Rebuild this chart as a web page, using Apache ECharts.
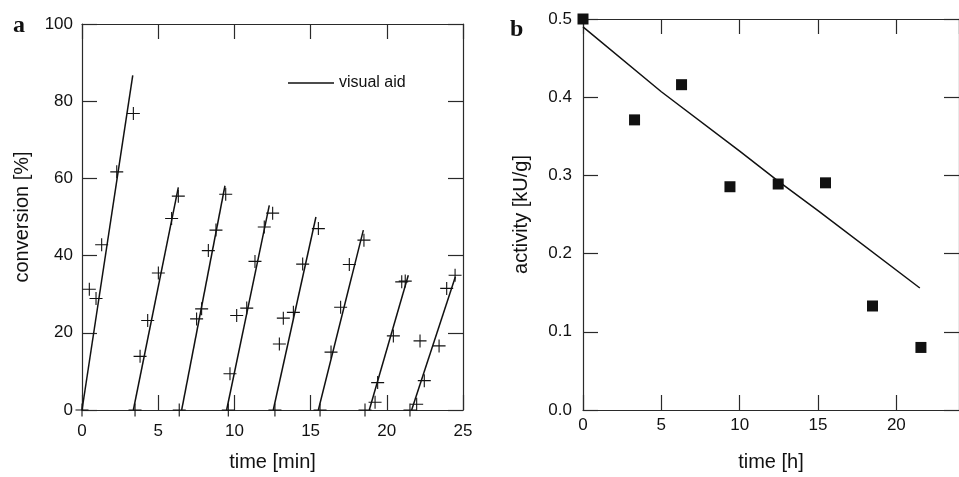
<!DOCTYPE html>
<html><head><meta charset="utf-8">
<script src="https://cdn.jsdelivr.net/npm/echarts@6/dist/echarts.min.js"></script>
<style>html,body{margin:0;padding:0;background:#fff}#c{width:959px;height:477px}</style>
</head><body><div id="c"></div>
<script>
// Panel a: conversion [%] vs time [min] (crosses)
const conversionPoints = [
  [0,0],[0.48,31.3],[0.92,28.9],[1.29,42.8],[2.28,61.7],[3.37,76.8],
  [3.48,0],[3.81,13.9],[4.31,23.2],[5.01,35.5],[5.88,49.6],[6.32,55.4],
  [6.38,0],[7.52,23.6],[7.85,26.2],[8.29,41.3],[8.79,46.6],[9.43,55.9],
  [9.6,0],[9.71,9.4],[10.15,24.5],[10.81,26.4],[11.35,38.5],[11.96,47.4],[12.51,51.0],
  [12.66,0],[12.95,17.1],[13.21,23.8],[13.87,25.3],[14.48,37.8],[15.51,47.0],
  [15.62,0],[16.34,15.0],[16.97,26.6],[17.54,37.7],[18.5,44.0],
  [18.57,0],[19.23,2.0],[19.4,7.1],[20.43,19.2],[20.98,33.2],[21.21,33.4],
  [21.52,0],[21.96,1.5],[22.18,17.9],[22.46,7.6],[23.43,16.6],[23.93,31.5],[24.48,34.9]
];
// Panel a: "visual aid" line segments, [start, end]
const aidSegments = [
  [[0,0],[3.33,86.7]],
  [[3.37,0],[6.32,57.7]],
  [[6.54,0],[9.38,58.1]],
  [[9.49,0],[12.29,53.0]],
  [[12.55,0],[15.35,50.0]],
  [[15.51,0],[18.46,46.6]],
  [[18.85,0],[21.41,34.9]],
  [[21.63,0],[24.5,34.5]]
];
// Panel b: activity [kU/g] vs time [h]
const activityTime = [0, 3.29, 6.29, 9.38, 12.46, 15.48, 18.48, 21.57];
const activityValue = [0.5, 0.371, 0.416, 0.2855, 0.289, 0.2905, 0.133, 0.080];
const activityFit = [[0,0.49],[5,0.407],[10,0.331],[12.5,0.292],[15,0.255],[21.5,0.156]];

const FONT = 'Liberation Sans';
const frameColor = '#2a2a2a';
const ink = '#111';

function axisBase(extra) {
  return Object.assign({
    axisLine: {show: true, onZero: false, lineStyle: {color: frameColor, width: 1.2}},
    axisTick: {show: true, inside: true, length: 15, lineStyle: {color: frameColor, width: 1.2}},
    splitLine: {show: false},
    nameTextStyle: {fontFamily: FONT, fontSize: 20, color: ink},
    axisLabel: {fontFamily: FONT, fontSize: 17, color: ink}
  }, extra);
}

const crossPath = 'path://M0,5L10,5M5,0L5,10';

const series = [];
aidSegments.forEach((seg, i) => {
  series.push({
    type: 'line', name: i === 0 ? 'visual aid' : 'aid' + i,
    xAxisIndex: 0, yAxisIndex: 0,
    data: seg, symbol: 'none', silent: true,
    lineStyle: {color: ink, width: 1.5}, itemStyle: {color: ink}
  });
});
series.push({
  type: 'scatter', name: 'conversion', xAxisIndex: 0, yAxisIndex: 0,
  data: conversionPoints, symbol: crossPath, symbolSize: 13,
  itemStyle: {color: 'none', borderColor: ink, borderWidth: 1.1, opacity: 1}
});
series.push({
  type: 'line', name: 'fit', xAxisIndex: 2, yAxisIndex: 2,
  data: activityFit, symbol: 'none', lineStyle: {color: ink, width: 1.5}
});
series.push({
  type: 'scatter', name: 'activity', xAxisIndex: 2, yAxisIndex: 2,
  data: activityTime.map((t, i) => [t, activityValue[i]]),
  symbol: 'rect', symbolSize: 11, itemStyle: {color: ink, opacity: 1}
});

const option = {
  animation: false,
  backgroundColor: '#fff',
  title: [
    {text: 'a', left: 8, top: 9, padding: 5, textStyle: {fontFamily: 'Liberation Serif', fontWeight: 'bold', fontSize: 24, color: ink}},
    {text: 'b', left: 505, top: 13, padding: 5, textStyle: {fontFamily: 'Liberation Serif', fontWeight: 'bold', fontSize: 24, color: ink}}
  ],
  legend: {
    data: [{name: 'visual aid', icon: 'rect'}],
    left: 283, top: 70, itemWidth: 46, itemHeight: 1.6, selectedMode: false,
    textStyle: {fontFamily: FONT, fontSize: 16, color: ink}
  },
  grid: [
    {left: 82, top: 24, width: 381, height: 392},
    {left: 583, top: 19, width: 384, height: 397}
  ],
  xAxis: [
    axisBase({gridIndex: 0, type: 'value', min: 0, max: 25, interval: 5, position: 'bottom',
      name: 'time [min]', nameLocation: 'middle', nameGap: 42,
      axisLabel: {fontFamily: FONT, fontSize: 17, color: ink, margin: 13}}),
    axisBase({gridIndex: 0, type: 'value', min: 0, max: 25, interval: 5, position: 'top',
      axisLabel: {show: false}}),
    axisBase({gridIndex: 1, type: 'value', min: 0, max: 24, interval: 5, position: 'bottom',
      name: 'time [h]', nameLocation: 'middle', nameGap: 42,
      axisLabel: {fontFamily: FONT, fontSize: 17, color: ink, margin: 7, showMaxLabel: false}}),
    axisBase({gridIndex: 1, type: 'value', min: 0, max: 24, interval: 5, position: 'top',
      axisLabel: {show: false}})
  ],
  yAxis: [
    axisBase({gridIndex: 0, type: 'value', min: 0, max: 100, interval: 20, position: 'left',
      name: 'conversion [%]', nameLocation: 'middle', nameGap: 50,
      axisLabel: {fontFamily: FONT, fontSize: 17, color: ink, margin: 9}}),
    axisBase({gridIndex: 0, type: 'value', min: 0, max: 100, interval: 20, position: 'right',
      axisLabel: {show: false}}),
    axisBase({gridIndex: 1, type: 'value', min: 0, max: 0.5, interval: 0.1, position: 'left',
      name: 'activity [kU/g]', nameLocation: 'middle', nameGap: 52,
      axisLabel: {fontFamily: FONT, fontSize: 17, color: ink, margin: 11, formatter: v => v.toFixed(1)}}),
    axisBase({gridIndex: 1, type: 'value', min: 0, max: 0.5, interval: 0.1, position: 'right',
      axisLabel: {show: false}})
  ],
  series: series
};
const chart = echarts.init(document.getElementById('c'), null, {renderer: 'canvas'});
chart.setOption(option);
</script>
</body></html>
